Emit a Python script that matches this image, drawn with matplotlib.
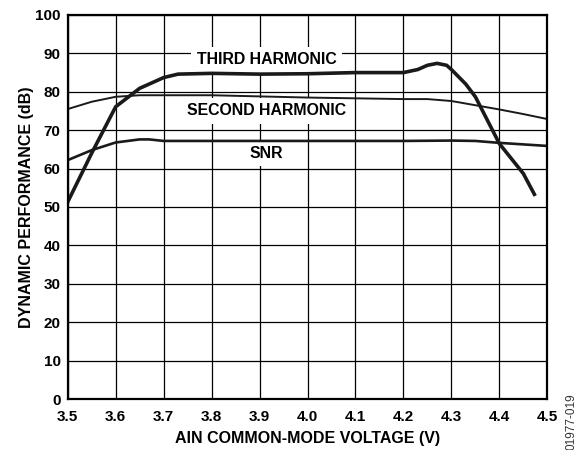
import numpy as np
import matplotlib
matplotlib.use('Agg')
import matplotlib.pyplot as plt

plt.rcParams['font.family'] = ['Liberation Sans', 'DejaVu Sans']
plt.rcParams['font.weight'] = 'bold'

# third harmonic (thick)
v_third = [3.50, 3.55, 3.60, 3.65, 3.70, 3.73, 3.80, 3.90, 4.00, 4.10, 4.20, 4.23,
           4.25, 4.27, 4.29, 4.30, 4.33, 4.35, 4.40, 4.45, 4.473]
db_third = [51.3, 64.0, 76.1, 80.9, 83.7, 84.6, 84.8, 84.6, 84.7, 85.0, 85.0, 85.8,
            86.9, 87.4, 86.9, 85.8, 82.0, 78.7, 66.5, 58.7, 53.3]

# second harmonic (thin)
v_second = [3.50, 3.55, 3.60, 3.65, 3.70, 3.80, 3.90, 4.00, 4.10, 4.20, 4.25, 4.30,
            4.35, 4.40, 4.45, 4.50]
db_second = [75.5, 77.4, 78.7, 79.1, 79.1, 79.1, 78.8, 78.5, 78.3, 78.1, 78.1, 77.6,
             76.5, 75.4, 74.2, 72.9]

# SNR (medium)
v_snr = [3.50, 3.55, 3.60, 3.65, 3.67, 3.70, 3.80, 3.90, 4.00, 4.10, 4.20, 4.30,
         4.35, 4.40, 4.45, 4.50]
db_snr = [62.2, 64.8, 66.8, 67.6, 67.6, 67.2, 67.2, 67.2, 67.2, 67.2, 67.2, 67.3,
          67.2, 66.7, 66.3, 65.9]

xticks = np.round(np.arange(3.5, 4.51, 0.1), 1)
yticks = np.arange(0, 101, 10)

fig = plt.figure(figsize=(5.86, 4.5), dpi=100)
ax = fig.add_axes([0.1155, 0.1133, 0.8185, 0.8534])

ax.plot(v_third, db_third, color='#1a1a1a', lw=2.6, zorder=5)
ax.plot(v_second, db_second, color='#1a1a1a', lw=1.4, zorder=5)
ax.plot(v_snr, db_snr, color='#1a1a1a', lw=1.9, zorder=5)

ax.set_xlim(3.5, 4.5)
ax.set_ylim(0, 100)
ax.set_xticks(xticks)
ax.set_xticklabels(['%.1f' % t for t in xticks], fontsize=11, fontweight='bold')
ax.set_yticks(yticks)
ax.set_yticklabels([str(t) for t in yticks], fontsize=11, fontweight='bold')
ax.tick_params(length=0)
ax.tick_params(axis='x', pad=8)
ax.tick_params(axis='y', pad=5)
ax.grid(True, color='black', lw=0.9)
ax.set_axisbelow(True)
for s in ax.spines.values():
    s.set_linewidth(1.6)
    s.set_zorder(6)

box = dict(facecolor='white', edgecolor='none', pad=4)
ax.text(3.915, 88.3, 'THIRD HARMONIC', ha='center', va='center', fontsize=11.4,
        fontweight='bold', bbox=box, zorder=4)
ax.text(3.915, 75.0, 'SECOND HARMONIC', ha='center', va='center', fontsize=11.4,
        fontweight='bold', bbox=box, zorder=4)
ax.text(3.915, 64.0, 'SNR', ha='center', va='center', fontsize=11.4,
        fontweight='bold', bbox=box, zorder=4)

ax.set_xlabel('AIN COMMON-MODE VOLTAGE (V)', fontsize=11.5, fontweight='bold')
ax.set_ylabel('DYNAMIC PERFORMANCE (dB)', fontsize=11.5, fontweight='bold')
ax.xaxis.set_label_coords(0.5, -0.1016)
ax.yaxis.set_label_coords(-0.085, 0.5)
ax.xaxis.label.set_va('center')
ax.yaxis.label.set_va('center')

fig.text(0.976, 0.062, '01977-019', rotation=90, fontsize=8.5, fontweight='normal',
         ha='center', va='center', color='#333333')

plt.savefig('out.png', dpi=100)
plt.close()
